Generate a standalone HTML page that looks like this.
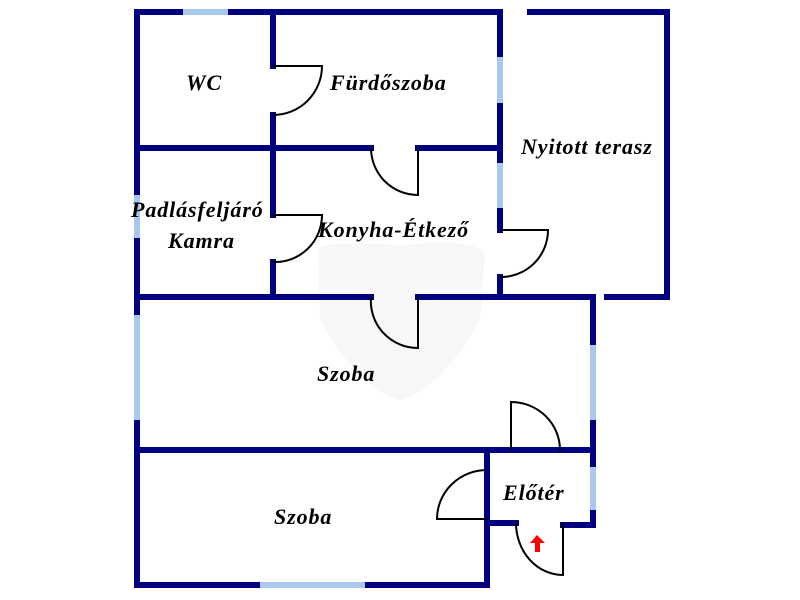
<!DOCTYPE html>
<html><head><style>body{margin:0;background:#fff}svg{display:block}text{font-family:"Liberation Serif",serif;font-weight:bold;font-style:italic;font-size:22px;letter-spacing:0.9px;fill:#000}</style></head><body>
<svg width="800" height="600" viewBox="0 0 800 600">
<path d="M318 250 Q320 240 400 245 Q480 238 485 255 L480 320 Q440 390 400 400 Q360 390 320 320 Z" fill="#f7f7f7"/>
<g stroke="#000080" stroke-width="6" stroke-linecap="square" fill="none">
<path d="M137 12 H500 V57 M500 103 V163 M500 208 V230 M500 277 V297"/>
<path d="M137 12 V585 H487 V450 M137 148 H371 M418 148 H500"/>
<path d="M273 12 V66 M273 115 V215 M273 262 V297"/>
<path d="M530 12 H667 V297 H607"/>
<path d="M137 297 H371 M418 297 H593 V525 H563 M516 523 H487 M487 450 H593 M137 450 H511 M560 450 H593"/>
<path d="M487 470 V450 M487 519 V585"/>
</g>
<g stroke="#a8c8ec" stroke-width="6" fill="none">
<path d="M183 12 H228 M500 57 V103 M500 163 V208 M137 195 V238 M137 315 V420 M593 345 V420 M593 467 V510 M260 585 H365"/>
</g>
<g stroke="#000" stroke-width="2" fill="none">
<path d="M273 66 H322 A49 49 0 0 1 273 115"/>
<path d="M418 148 V195 A47 47 0 0 1 371 148"/>
<path d="M273 215 H322 A47 47 0 0 1 273 262"/>
<path d="M500 230 H548 A47 47 0 0 1 500 277"/>
<path d="M418 297 V348 A47 47 0 0 1 371 297"/>
<path d="M511 450 V402 A49 48 0 0 1 560 450"/>
<path d="M487 519 H437 A50 49 0 0 1 487 470"/>
<path d="M563 523 V575 A47 52 0 0 1 516 523"/>
</g>
<path d="M537 535 L530 543 L535 543 L535 552 L540 552 L540 543 L545 543 Z" fill="#f00"/>
<text x="186" y="90">WC</text>
<text x="330" y="90">Fürdőszoba</text>
<text x="521" y="154">Nyitott terasz</text>
<text x="131" y="217">Padlásfeljáró</text>
<text x="168" y="248">Kamra</text>
<text x="318" y="237">Konyha-Étkező</text>
<text x="317" y="381">Szoba</text>
<text x="274" y="524">Szoba</text>
<text x="503" y="500">Előtér</text>
</svg>
</body></html>
